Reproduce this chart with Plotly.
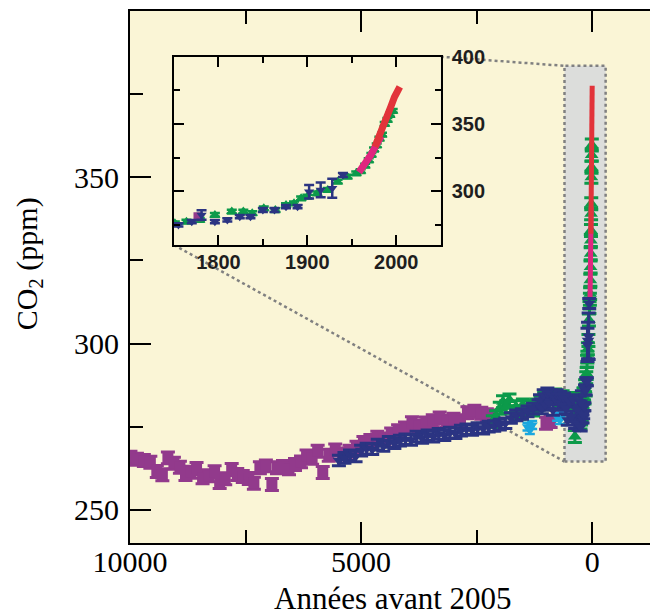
import plotly.graph_objects as go

# ---------------- axis ranges ----------------
X_RANGE = [10000, -1250]      # years before 2005 (reversed)
Y_RANGE = [240, 400]          # ppm
INSET_X = [1750, 2050]        # year AD
INSET_Y = [260, 400]          # ppm

MAIN_X_TICKS = [10000, 5000, 0]
MAIN_X_MINOR = [7500, 2500]
MAIN_Y_TICKS = [250, 300, 350]
MAIN_Y_MINOR = [275, 325, 375]
INSET_X_TICKS = [1800, 1900, 2000]
INSET_X_MINOR = [1850, 1950]
INSET_Y_TICKS = [300, 350, 400]
INSET_Y_MINOR = [275, 325, 375]

# ---------------- data: millennial records (years before 2005) ----------------
purple_bp = [9990, 9850, 9700, 9560, 9420, 9300, 9180, 9050, 8920, 8800, 8680, 8560,
             8430, 8300, 8170, 8060, 7940, 7800, 7680, 7560, 7430, 7320, 7190, 7060,
             6930, 6820, 6690, 6560, 6430, 6300, 6180, 6060, 5940, 5830, 5700, 5560,
             5400, 5250, 5100, 4950, 4800, 4650, 4500, 4350, 4200, 4050, 3900, 3750,
             3600, 3450, 3300, 3150, 3000, 2850, 2700, 2550, 2400, 2280, 2150, 1000, 900]
purple_ppm = [265.8, 265.2, 264.8, 264.3, 261.5, 260.5, 265.6, 264.0, 262.8, 260.6, 261.3, 262.4,
              259.6, 260.2, 261.4, 258.2, 259.3, 262.1, 260.6, 260.0, 259.4, 258.0, 262.6, 263.2,
              257.6, 262.6, 263.0, 262.3, 263.6, 264.4, 266.2, 265.5, 267.6, 261.2, 266.4, 268.0,
              266.8, 267.6, 268.8, 270.2, 270.8, 271.8, 271.3, 272.8, 273.8, 274.6, 276.2, 275.2,
              276.1, 276.8, 277.6, 276.6, 277.2, 276.8, 279.2, 279.6, 279.0, 278.6, 278.2, 276.0, 276.5]

blue_bp = [5480, 5360, 5240, 5120, 5000, 4880, 4760, 4640, 4520, 4400, 4280, 4160,
           4040, 3920, 3800, 3680, 3560, 3440, 3320, 3200, 3080, 2960, 2840, 2720,
           2600, 2480, 2360, 2240, 2120, 2000, 1880, 1760, 1640, 1520, 1400, 1280,
           1160, 1130, 1090, 1050, 1010, 970, 930, 890, 850, 810, 770, 730, 690,
           650, 610, 570, 530, 490, 450, 410, 370, 330, 290, 270]
blue_ppm = [264.8, 265.6, 266.4, 266.0, 267.8, 268.4, 268.2, 269.6, 269.2, 270.4, 270.0, 270.8,
            271.2, 271.0, 272.0, 271.6, 272.4, 272.0, 272.8, 272.4, 273.2, 273.0, 273.8, 274.2,
            274.0, 274.6, 274.4, 275.0, 275.2, 275.6, 276.0, 277.6, 278.4, 278.8, 279.6, 280.4,
            281.5, 283.0, 280.5, 284.5, 281.5, 285.0, 282.0, 284.5, 280.0, 283.5, 284.5, 282.0, 284.0,
            281.5, 283.5, 280.5, 277.0, 282.5, 278.0, 283.0, 276.0, 280.0, 275.5, 282.5]

green_bp = [2150, 2080, 2000, 1930, 1860, 1790, 1720, 1650, 1570, 1500, 1420, 1350,
            1280, 1200, 1120, 1040, 960, 880, 800, 720, 640, 560, 480, 420, 375, 320, 270]
green_ppm = [276.5, 278.0, 280.5, 282.5, 281.0, 283.0, 279.5, 281.0, 279.0, 281.5, 280.0, 281.0,
             280.0, 281.5, 282.5, 283.5, 282.0, 283.5, 284.5, 283.0, 284.0, 283.0, 282.0, 283.5,
             272.0, 281.0, 282.5]

cyan_bp = [1400, 1350, 1300, 760, 700, 640]
cyan_ppm = [275.0, 274.0, 275.5, 278.0, 277.0, 278.5]

# ---------------- data: last 250 years (year AD) ----------------
law_green_ad = [1751, 1764, 1779, 1796, 1815, 1828, 1838, 1851, 1864, 1876, 1885, 1893,
                1900, 1911, 1923, 1934, 1945, 1955, 1960, 1965, 1969, 1972, 1975, 1978,
                1981, 1984, 1987, 1990, 1993, 1996]
law_green_ppm = [276.1, 277.3, 278.6, 282.3, 284.8, 284.8, 283.6, 287.3, 286.0, 289.7, 291.0, 294.7,
                 295.9, 298.4, 300.9, 307.1, 310.8, 313.3, 315.0, 319.0, 323.0, 327.0, 331.0, 334.0,
                 339.0, 342.0, 350.0, 353.0, 356.7, 359.7]

core_blue_ad = [1755, 1770, 1781, 1796, 1810, 1824, 1836, 1850, 1863, 1876, 1889, 1902, 1915, 1928, 1940]
core_blue_ppm = [274.9, 277.3, 282.3, 277.3, 278.6, 281.0, 281.0, 286.0, 286.0, 288.5, 288.5,
                 299.6, 300.9, 302.2, 312.0]
core_blue_err = [1.2, 1.2, 3.5, 1.2, 1.2, 1.2, 1.2, 1.5, 1.5, 1.2, 1.2, 5.0, 5.5, 7.0, 1.5]

core_purple_ad = [1777]
core_purple_ppm = [281.0]

pink_ad = [1958, 1961, 1965, 1968, 1971, 1974, 1977, 1980, 1983]
pink_ppm = [314.0, 316.5, 320.0, 323.0, 326.5, 330.0, 333.5, 337.0, 341.0]

red_ad = [1976, 1981, 1985, 1989, 1994, 1998, 2002, 2004]
red_ppm = [333.0, 340.5, 347.0, 353.0, 363.0, 370.0, 375.0, 377.5]

ZOOM_BOX = dict(x0=600, x1=-290, y0=264.5, y1=383.5)

# ---------------- style ----------------
PURPLE = "#923a8c"
BLUE = "#2b3482"
GREEN = "#0c9a4a"
CYAN = "#1ba7de"
PINK = "#e0267f"
RED = "#e2333a"
BG_YELLOW = "#faf5d6"
INSET_GREY = "#dcdddb"
DOT_GREY = "#808080"

INSET_DX = [0.0846, 0.5975]
INSET_DY = [0.5602, 0.9141]

SERIF = "Liberation Serif, Times New Roman, serif"
SANS = "Liberation Sans, Arial, sans-serif"


def bp(ad_list):
    return [2005 - a for a in ad_list]


def main_to_paper(x, y):
    fx = (X_RANGE[0] - x) / (X_RANGE[0] - X_RANGE[1])
    fy = (y - Y_RANGE[0]) / (Y_RANGE[1] - Y_RANGE[0])
    return fx, fy


def inset_to_paper(x, y):
    fx = (x - INSET_X[0]) / (INSET_X[1] - INSET_X[0])
    fy = (y - INSET_Y[0]) / (INSET_Y[1] - INSET_Y[0])
    return (INSET_DX[0] + fx * (INSET_DX[1] - INSET_DX[0]),
            INSET_DY[0] + fy * (INSET_DY[1] - INSET_DY[0]))


def err(color, value=None, array=None, width=5, thickness=2.5):
    d = dict(type="data", visible=True, color=color, thickness=thickness, width=width)
    if array is not None:
        d["array"] = array
    else:
        d["type"] = "constant"
        d["value"] = value
    return d


fig = go.Figure()

# ----- main panel -----
fig.add_trace(go.Scatter(x=purple_bp + bp(core_purple_ad), y=purple_ppm + core_purple_ppm,
                         mode="markers", marker=dict(symbol="square", size=11, color=PURPLE),
                         error_y=err(PURPLE, value=1.8, width=7, thickness=3), xaxis="x", yaxis="y"))
fig.add_trace(go.Scatter(x=cyan_bp, y=cyan_ppm, mode="markers",
                         marker=dict(symbol="triangle-down", size=10, color=CYAN),
                         error_y=err(CYAN, value=1.2), xaxis="x", yaxis="y"))
fig.add_trace(go.Scatter(x=green_bp + bp(law_green_ad), y=green_ppm + law_green_ppm, mode="markers",
                         marker=dict(symbol="triangle-up", size=12, color=GREEN),
                         error_y=err(GREEN, value=1.8, width=7, thickness=3), xaxis="x", yaxis="y"))
fig.add_trace(go.Scatter(x=blue_bp + bp(core_blue_ad),
                         y=blue_ppm + core_blue_ppm, mode="markers",
                         marker=dict(symbol="triangle-down", size=11, color=BLUE),
                         error_y=err(BLUE, array=[1.6] * len(blue_bp) + core_blue_err, width=7, thickness=3),
                         xaxis="x", yaxis="y"))
fig.add_trace(go.Scatter(x=bp(pink_ad), y=pink_ppm, mode="lines",
                         line=dict(color=PINK, width=5), xaxis="x", yaxis="y"))
fig.add_trace(go.Scatter(x=bp(red_ad), y=red_ppm, mode="lines",
                         line=dict(color=RED, width=5), xaxis="x", yaxis="y"))

# ----- inset panel -----
fig.add_trace(go.Scatter(x=law_green_ad, y=law_green_ppm, mode="markers",
                         marker=dict(symbol="triangle-up", size=10, color=GREEN),
                         error_y=err(GREEN, value=1.4, width=5, thickness=2.5),
                         xaxis="x2", yaxis="y2"))
fig.add_trace(go.Scatter(x=core_purple_ad, y=core_purple_ppm, mode="markers",
                         marker=dict(symbol="square", size=9, color=PURPLE),
                         xaxis="x2", yaxis="y2"))
fig.add_trace(go.Scatter(x=core_blue_ad, y=core_blue_ppm, mode="markers",
                         marker=dict(symbol="triangle-down", size=9, color=BLUE),
                         error_y=err(BLUE, array=core_blue_err, width=5, thickness=2.5),
                         xaxis="x2", yaxis="y2"))
fig.add_trace(go.Scatter(x=pink_ad, y=pink_ppm, mode="lines",
                         line=dict(color=PINK, width=7), xaxis="x2", yaxis="y2"))
fig.add_trace(go.Scatter(x=red_ad, y=red_ppm, mode="lines",
                         line=dict(color=RED, width=7), xaxis="x2", yaxis="y2"))

# ----- shapes -----
shapes = []
shapes.append(dict(type="rect", xref="x", yref="y", layer="below",
                   x0=ZOOM_BOX["x0"], x1=ZOOM_BOX["x1"], y0=ZOOM_BOX["y0"], y1=ZOOM_BOX["y1"],
                   fillcolor=INSET_GREY, line=dict(color=DOT_GREY, width=2.5, dash="dot")))
shapes.append(dict(type="rect", xref="x2 domain", yref="y2 domain", layer="below",
                   x0=0, x1=1, y0=0, y1=1, fillcolor=INSET_GREY, line=dict(width=0)))
p1 = inset_to_paper(INSET_X[1], INSET_Y[1])
q1 = main_to_paper(ZOOM_BOX["x0"], ZOOM_BOX["y1"])
p2 = inset_to_paper(INSET_X[0], INSET_Y[0])
q2 = main_to_paper(ZOOM_BOX["x0"], ZOOM_BOX["y0"])
for p, q in ((p1, q1), (p2, q2)):
    shapes.append(dict(type="line", xref="paper", yref="paper", layer="below",
                       x0=p[0], y0=p[1], x1=q[0], y1=q[1],
                       line=dict(color=DOT_GREY, width=2.5, dash="dot")))

serif_tick = dict(family=SERIF, size=30, color="black")
sans_tick = dict(family=SANS, size=20, color="#1e1e1e", weight="bold")

common = dict(automargin=False, showgrid=False, zeroline=False,
              showline=True, linecolor="black", linewidth=2,
              ticks="inside", tickwidth=2, tickcolor="black", tickmode="array")

fig.update_layout(
    width=650, height=612,
    margin=dict(l=130, r=0, t=11, b=69, autoexpand=False),
    paper_bgcolor="white", plot_bgcolor=BG_YELLOW,
    showlegend=False,
    shapes=shapes,
    xaxis=dict(range=X_RANGE, domain=[0, 1], anchor="y", mirror="ticks", ticklen=21,
               tickvals=MAIN_X_TICKS, ticktext=[str(v) for v in MAIN_X_TICKS],
               minor=dict(tickmode="array", tickvals=MAIN_X_MINOR, ticks="inside", ticklen=13,
                          tickwidth=2, tickcolor="black", showgrid=False),
               tickfont=serif_tick, ticklabelstandoff=-9, **common),
    yaxis=dict(range=Y_RANGE, domain=[0, 1], anchor="x", mirror=False, ticklen=21,
               tickvals=MAIN_Y_TICKS, ticktext=[str(v) for v in MAIN_Y_TICKS],
               minor=dict(tickmode="array", tickvals=MAIN_Y_MINOR, ticks="inside", ticklen=13,
                          tickwidth=2, tickcolor="black", showgrid=False),
               tickfont=serif_tick, ticklabelstandoff=3, **common),
    xaxis2=dict(range=INSET_X, domain=INSET_DX, anchor="y2", mirror="ticks", ticklen=10,
                tickvals=INSET_X_TICKS, ticktext=[str(v) for v in INSET_X_TICKS],
                minor=dict(tickmode="array", tickvals=INSET_X_MINOR, ticks="inside", ticklen=6,
                           tickwidth=2, tickcolor="black", showgrid=False),
                tickfont=sans_tick, ticklabelstandoff=-2, **common),
    yaxis2=dict(range=INSET_Y, domain=INSET_DY, anchor="x2", side="right", mirror="ticks", ticklen=10,
                tickvals=INSET_Y_TICKS, ticktext=[str(v) for v in INSET_Y_TICKS],
                minor=dict(tickmode="array", tickvals=INSET_Y_MINOR, ticks="inside", ticklen=6,
                           tickwidth=2, tickcolor="black", showgrid=False),
                tickfont=sans_tick, ticklabelstandoff=5, **common),
    annotations=[
        dict(text="CO<sub>2</sub> (ppm)", xref="paper", yref="paper",
             x=-0.194, y=0.524, xanchor="center", yanchor="middle", textangle=-90,
             showarrow=False, font=dict(family=SERIF, size=30, color="black")),
        dict(text="Années avant 2005", xref="paper", yref="paper",
             x=0.506, y=-0.105, xanchor="center", yanchor="middle",
             showarrow=False, font=dict(family=SERIF, size=31, color="black")),
    ],
)

fig.write_html("out.html", config={"displayModeBar": False},
               post_script="document.body.style.margin='0';document.body.style.overflow='hidden';")
